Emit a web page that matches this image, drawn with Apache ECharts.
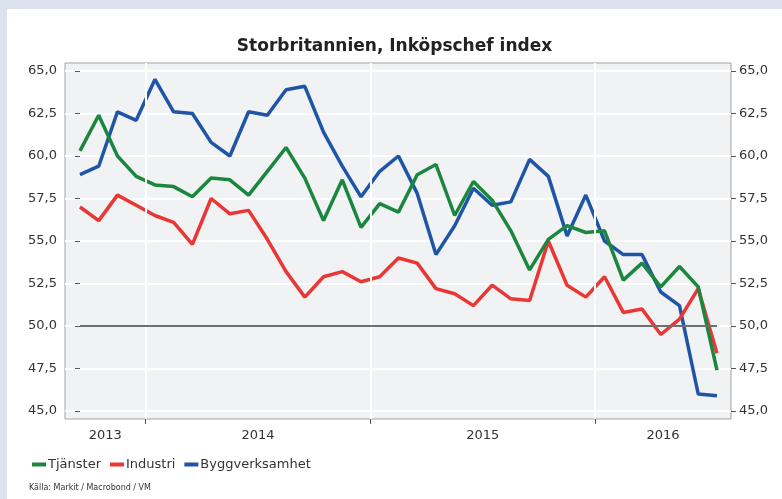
<!DOCTYPE html>
<html>
<head>
<meta charset="utf-8">
<title>Storbritannien, Inköpschef index</title>
<script src="https://cdn.jsdelivr.net/npm/echarts@6/dist/echarts.min.js"></script>
<style>
  html, body { margin: 0; padding: 0; background: #dce3ee; }
  #chart { position: absolute; left: 7px; top: 9px; width: 775px; height: 490px; background: #fff; }
</style>
</head>
<body>
<div id="chart"></div>
<script>
// månader (mitten av månaden), sep 2013 - jul 2016
var months = ['2013-09','2013-10','2013-11','2013-12',
  '2014-01','2014-02','2014-03','2014-04','2014-05','2014-06','2014-07','2014-08','2014-09','2014-10','2014-11','2014-12',
  '2015-01','2015-02','2015-03','2015-04','2015-05','2015-06','2015-07','2015-08','2015-09','2015-10','2015-11','2015-12',
  '2016-01','2016-02','2016-03','2016-04','2016-05','2016-06','2016-07'];

var tjanster = [60.3, 62.4, 60.0, 58.8, 58.3, 58.2, 57.6, 58.7, 58.6, 57.7, 59.1, 60.5, 58.7, 56.2, 58.6, 55.8,
  57.2, 56.7, 58.9, 59.5, 56.5, 58.5, 57.4, 55.6, 53.3, 55.1, 55.9, 55.5, 55.6, 52.7, 53.7, 52.3, 53.5, 52.3, 47.4];

var industri = [57.0, 56.2, 57.7, 57.1, 56.5, 56.1, 54.8, 57.5, 56.6, 56.8, 55.1, 53.2, 51.7, 52.9, 53.2, 52.6,
  52.9, 54.0, 53.7, 52.2, 51.9, 51.2, 52.4, 51.6, 51.5, 55.0, 52.4, 51.7, 52.9, 50.8, 51.0, 49.5, 50.4, 52.2, 48.4];

var bygg = [58.9, 59.4, 62.6, 62.1, 64.5, 62.6, 62.5, 60.8, 60.0, 62.6, 62.4, 63.9, 64.1, 61.4, 59.4, 57.6,
  59.1, 60.0, 57.8, 54.2, 55.9, 58.1, 57.1, 57.3, 59.8, 58.8, 55.3, 57.7, 55.0, 54.2, 54.2, 52.0, 51.2, 46.0, 45.9];

var yTicks = [45, 47.5, 50, 52.5, 55, 57.5, 60, 62.5, 65];
var years = ['2013', '2014', '2015', '2016'];

var xMin = -0.8, xMax = months.length - 1 + 0.75;

// årsgränser mellan dec och jan
var yearBounds = [];
months.forEach(function (m, i) {
  if (i > 0 && m.slice(5) === '01') yearBounds.push(i - 0.5);
});
var edges = [xMin].concat(yearBounds, [xMax]);
var yearPos = years.map(function (y, i) { return (edges[i] + edges[i + 1]) / 2; });

function toPairs(arr) {
  return arr.map(function (v, i) { return [i, v]; });
}
function fmt(v) {
  return v.toFixed(1).replace('.', ',');
}

var txt = '#333';
var font = 'DejaVu Sans, Verdana, sans-serif';

var yAxisBase = {
  type: 'value',
  min: 44.53,
  max: 65.47,
  axisLine: { show: false },
  axisTick: { show: true, length: 5, customValues: yTicks, lineStyle: { color: '#555' } },
  axisLabel: { customValues: yTicks, formatter: fmt, color: txt, fontSize: 13, fontFamily: font, margin: 8 },
  splitLine: { show: true, lineStyle: { color: '#ffffff', width: 1.5 } }
};

var chart = echarts.init(document.getElementById('chart'));
chart.setOption({
  animation: false,
  title: {
    text: 'Storbritannien, Inköpschef index',
    left: 'center',
    top: 24,
    textStyle: { fontSize: 17, fontWeight: 'bold', color: '#222', fontFamily: font }
  },
  grid: {
    left: 58, right: 51, top: 54, bottom: 80,
    show: true,
    backgroundColor: '#f1f2f4',
    borderColor: '#a3a3a3',
    borderWidth: 1
  },
  legend: {
    left: 20,
    top: 444,
    icon: 'rect',
    itemWidth: 14,
    itemHeight: 4,
    itemGap: 9,
    data: ['Tjänster', 'Industri', 'Byggverksamhet'],
    textStyle: { fontSize: 13, color: txt, fontFamily: font, padding: [0, 0, 0, -3] }
  },
  graphic: [{
    type: 'text',
    left: 22,
    top: 475,
    style: { text: 'Källa: Markit / Macrobond / VM', fontSize: 8, fill: '#333', fontFamily: font }
  }],
  xAxis: {
    type: 'value',
    min: xMin,
    max: xMax,
    axisLine: { show: false },
    axisTick: { show: true, length: 5, customValues: yearBounds, lineStyle: { color: '#555' } },
    axisLabel: {
      customValues: yearPos,
      color: txt, fontSize: 13, fontFamily: font, margin: 10,
      formatter: function (v) {
        var best = 0;
        yearPos.forEach(function (p, i) { if (Math.abs(p - v) < Math.abs(yearPos[best] - v)) best = i; });
        return years[best];
      }
    },
    splitLine: { show: false }
  },
  yAxis: [
    Object.assign({}, yAxisBase, { position: 'left' }),
    Object.assign({}, yAxisBase, { position: 'right' })
  ],
  series: [
    {
      // vertikala årslinjer och 50-linjen
      name: 'grid', type: 'line', data: [], silent: true,
      markLine: {
        silent: true, symbol: 'none', label: { show: false }, animation: false,
        data: yearBounds.map(function (b) {
          return [
            { coord: [b, 44.53], lineStyle: { color: '#ffffff', width: 2, type: 'solid' } },
            { coord: [b, 65.47] }
          ];
        }).concat([[
          { coord: [0, 50], lineStyle: { color: '#6f6f6f', width: 2, type: 'solid' } },
          { coord: [months.length - 1, 50] }
        ]])
      }
    },
    {
      name: 'Byggverksamhet', type: 'line', data: toPairs(bygg),
      showSymbol: false, color: '#1f55a6', lineStyle: { width: 3.5 }
    },
    {
      name: 'Industri', type: 'line', data: toPairs(industri),
      showSymbol: false, color: '#ea3634', lineStyle: { width: 3.5 }
    },
    {
      name: 'Tjänster', type: 'line', data: toPairs(tjanster),
      showSymbol: false, color: '#1b873e', lineStyle: { width: 3.5 }
    }
  ]
});
</script>
</body>
</html>
